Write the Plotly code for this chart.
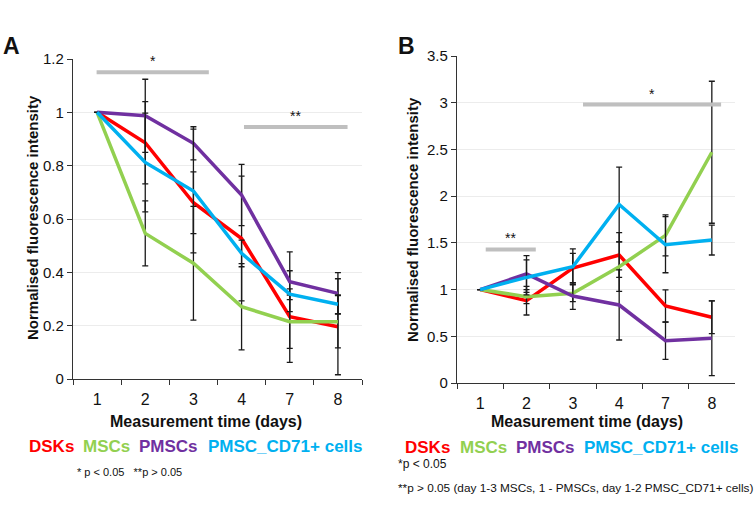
import plotly.graph_objects as go

W, H = 756, 509
FONT = "Liberation Sans, Arial, sans-serif"

days = ["1", "2", "3", "4", "7", "8"]
series_names = ["DSKs", "MSCs", "PMSCs", "PMSC_CD71+ cells"]
colors = ["#ff0000", "#92d050", "#7030a0", "#00b0f0"]

# Panel A values / errors
dsk_a = [1, 0.886, 0.661, 0.527, 0.234, 0.196]
dsk_a_err = [0, 0.154, 0.116, 0.234, 0.172, 0.18]
msc_a = [1, 0.546, 0.434, 0.271, 0.215, 0.215]
msc_a_err = [0, 0.122, 0.213, 0.162, 0.1, 0.098]
pmsc_a = [1, 0.987, 0.884, 0.69, 0.365, 0.321]
pmsc_a_err = [0, 0.137, 0.062, 0.115, 0.112, 0.078]
cd71_a = [1, 0.812, 0.705, 0.471, 0.318, 0.28]
cd71_a_err = [0, 0.185, 0.232, 0.05, 0.02, 0.035]

# Panel B values / errors
dsk_b = [1, 0.881, 1.23, 1.37, 0.824, 0.703]
dsk_b_err = [0, 0.153, 0.158, 0.24, 0.172, 0.175]
msc_b = [1, 0.924, 0.96, 1.245, 1.58, 2.47]
msc_b_err = [0, 0.075, 0.09, 0.265, 0.22, 0.76]
pmsc_b = [1, 1.167, 0.931, 0.835, 0.453, 0.478]
pmsc_b_err = [0, 0.196, 0.142, 0.375, 0.2, 0.4]
cd71_b = [1, 1.13, 1.245, 1.91, 1.48, 1.53]
cd71_b_err = [0, 0.187, 0.19, 0.4, 0.3, 0.16]

# significance bars: (start index, end index, level, label)
sig_a = [(-0.01, 2.32, 1.15, "*"), (3.05, 5.2, 0.945, "**")]
sig_b = [(0.12, 1.2, 1.43, "**"), (2.22, 5.2, 2.98, "*")]

fig = go.Figure()

def add_panel(vals, errs, xa, ya):
    for name, c, v, e in zip(series_names, colors, vals, errs):
        fig.add_trace(go.Scatter(
            x=days, y=v, mode="lines", name=name, showlegend=False,
            line=dict(color=c, width=3.5),
            error_y=dict(type="data", array=e, visible=True, color="#1a1a1a",
                         thickness=1.3, width=3),
            xaxis=xa, yaxis=ya))

add_panel([dsk_a, msc_a, pmsc_a, cd71_a], [dsk_a_err, msc_a_err, pmsc_a_err, cd71_a_err], "x", "y")
add_panel([dsk_b, msc_b, pmsc_b, cd71_b], [dsk_b_err, msc_b_err, pmsc_b_err, cd71_b_err], "x2", "y2")

def px_x(p):
    return p / W

def px_y(p):
    return 1 - p / H

xcommon = dict(type="category", tickson="boundaries", ticks="outside", ticklen=5,
               tickcolor="#333", showline=True, linecolor="#333", linewidth=1.2,
               showgrid=False, tickfont=dict(family=FONT, size=16, color="#111"),
               range=[-0.5, 5.5], automargin=False, ticklabelstandoff=6)
ycommon = dict(ticks="outside", ticklen=5, tickcolor="#333", showline=True,
               linecolor="#333", linewidth=1.2, showgrid=True, gridcolor="#ececec",
               gridwidth=1, zeroline=False, automargin=False,
               tickfont=dict(family=FONT, size=15, color="#111"))

fig.update_layout(
    width=W, height=H, margin=dict(l=0, r=0, t=0, b=0, pad=0, autoexpand=False),
    paper_bgcolor="white", plot_bgcolor="white",
    xaxis=dict(domain=[px_x(73), px_x(362)], anchor="y", **xcommon),
    yaxis=dict(domain=[px_y(379), px_y(59)], anchor="x", range=[0, 1.2], dtick=0.2, **ycommon),
    xaxis2=dict(domain=[px_x(457), px_x(735)], anchor="y2", **xcommon),
    yaxis2=dict(domain=[px_y(383), px_y(56)], anchor="x2", range=[0, 3.5], dtick=0.5, **ycommon),
)

shapes = []
annots = []
for (xa, ya, sig) in [("x", "y", sig_a), ("x2", "y2", sig_b)]:
    for x0, x1, lvl, lab in sig:
        shapes.append(dict(type="line", xref=xa, yref=ya, x0=x0, x1=x1, y0=lvl, y1=lvl,
                           line=dict(color="#bfbfbf", width=4)))
        annots.append(dict(xref=xa, yref=ya, x=(x0 + x1) / 2, y=lvl, text=lab,
                           showarrow=False, yanchor="bottom", yshift=1,
                           font=dict(family=FONT, size=14, color="#111")))

def txt(x, y, text, size, color="#111", bold=False, xanchor="left", angle=0):
    t = f"<b>{text}</b>" if bold else text
    annots.append(dict(xref="paper", yref="paper", x=px_x(x), y=px_y(y), text=t,
                       showarrow=False, xanchor=xanchor, yanchor="middle", textangle=angle,
                       font=dict(family=FONT, size=size, color=color)))

# panel labels
txt(1, 46, "A", 23, bold=True)
txt(396, 46, "B", 23, bold=True)
# axis titles
txt(32, 218, "Normalised fluorescence intensity", 15, bold=True, xanchor="center", angle=-90)
txt(412, 220, "Normalised fluorescence intensity", 15, bold=True, xanchor="center", angle=-90)
txt(206, 421, "Measurement time (days)", 16, bold=True, xanchor="center")
txt(587, 421, "Measurement time (days)", 16, bold=True, xanchor="center")
# colored legends
leg_a_x = [27, 81, 137, 206]
leg_b_x = [403, 458, 514, 582]
for xs, yy in [(leg_a_x, 446), (leg_b_x, 447)]:
    for x0, name, c in zip(xs, series_names, colors):
        txt(x0, yy, name, 17, color=c, bold=True)
# footnotes
txt(75, 472, "* p &lt; 0.05   **p &gt; 0.05", 11)
txt(396, 464, "*p &lt; 0.05", 12)
txt(396, 488, "**p &gt; 0.05 (day 1-3 MSCs, 1 - PMSCs, day 1-2 PMSC_CD71+ cells)", 11.8)

fig.update_layout(shapes=shapes, annotations=annots)
fig.write_html("out.html", config={"displayModeBar": False},
               post_script="document.body.style.margin='0';document.body.style.padding='0';")
